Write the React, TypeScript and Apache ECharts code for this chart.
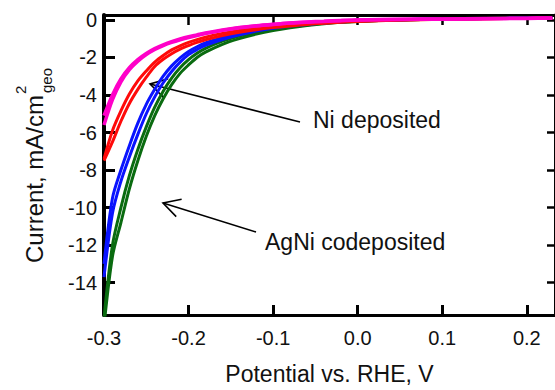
import React, { useEffect, useRef } from "react";
import * as echarts from "echarts";

// Potential grid (V vs. RHE)
const POTENTIAL = [-0.3, -0.29, -0.28, -0.27, -0.26, -0.25, -0.24, -0.23, -0.22, -0.21, -0.2, -0.19, -0.18, -0.16, -0.14, -0.12, -0.1, -0.08, -0.06, -0.04, -0.02, 0, 0.05, 0.1, 0.15, 0.2, 0.23];

// AgNi codeposited (green, two scans)
const GREEN_A = [-16.3, -12.6, -10.8, -9.0, -7.5, -6.2, -5.1, -4.2, -3.45, -2.85, -2.4, -2.0, -1.72, -1.3, -1.0, -0.76, -0.57, -0.42, -0.3, -0.2, -0.13, -0.08, 0, 0.04, 0.07, 0.09, 0.1];
const GREEN_B = [-15.9, -12.0, -10.0, -8.3, -6.9, -5.7, -4.65, -3.8, -3.1, -2.55, -2.12, -1.78, -1.52, -1.13, -0.86, -0.65, -0.5, -0.37, -0.27, -0.18, -0.12, -0.07, 0, 0.04, 0.07, 0.09, 0.1];
// AgNi codeposited (blue, two scans)
const BLUE_A = [-13.7, -10.3, -8.6, -7.3, -6.1, -5.0, -4.1, -3.35, -2.75, -2.25, -1.85, -1.58, -1.36, -1.05, -0.8, -0.6, -0.45, -0.33, -0.24, -0.17, -0.11, -0.06, 0.01, 0.05, 0.07, 0.09, 0.1];
const BLUE_B = [-13.0, -9.5, -8.0, -6.7, -5.5, -4.5, -3.7, -3.0, -2.45, -2.02, -1.68, -1.43, -1.23, -0.95, -0.72, -0.54, -0.4, -0.3, -0.22, -0.15, -0.1, -0.05, 0.01, 0.05, 0.07, 0.09, 0.1];
// Ni deposited (red, two scans)
const RED_A = [-7.5, -6.5, -5.4, -4.45, -3.7, -3.05, -2.48, -2.1, -1.8, -1.56, -1.37, -1.2, -1.06, -0.84, -0.66, -0.52, -0.41, -0.32, -0.24, -0.18, -0.12, -0.08, -0.01, 0.03, 0.06, 0.08, 0.09];
const RED_B = [-7.4, -5.9, -4.85, -3.95, -3.25, -2.72, -2.25, -1.9, -1.6, -1.38, -1.2, -1.05, -0.92, -0.72, -0.56, -0.44, -0.34, -0.26, -0.2, -0.14, -0.1, -0.06, 0, 0.04, 0.06, 0.08, 0.09];
// Ni deposited (magenta, two scans)
const MAGENTA_A = [-5.6, -4.25, -3.3, -2.65, -2.2, -1.85, -1.58, -1.37, -1.2, -1.06, -0.94, -0.83, -0.73, -0.56, -0.42, -0.32, -0.24, -0.17, -0.12, -0.08, -0.04, -0.01, 0.02, 0.04, 0.06, 0.08, 0.09];
const MAGENTA_B = [-5.1, -4.0, -3.15, -2.55, -2.12, -1.79, -1.53, -1.33, -1.16, -1.02, -0.9, -0.8, -0.7, -0.54, -0.41, -0.31, -0.23, -0.16, -0.11, -0.07, -0.03, 0, 0.03, 0.05, 0.07, 0.09, 0.1];

const X_TICKS = [-0.3, -0.2, -0.1, 0, 0.1, 0.2];
const Y_TICKS = [0, -2, -4, -6, -8, -10, -12, -14];

const FONT = "'Liberation Sans', Arial, Helvetica, sans-serif";
const TEXT = "#111";

function arrow(tip: number[], tail: number[], len: number, ang: number) {
  const dx = tail[0] - tip[0];
  const dy = tail[1] - tip[1];
  const base = Math.atan2(dy, dx);
  const w1 = [tip[0] + len * Math.cos(base + ang), tip[1] + len * Math.sin(base + ang)];
  const w2 = [tip[0] + len * Math.cos(base - ang), tip[1] + len * Math.sin(base - ang)];
  const style = { stroke: "#000", lineWidth: 1.6 };
  return [
    { type: "line", shape: { x1: tail[0], y1: tail[1], x2: tip[0], y2: tip[1] }, style },
    { type: "polyline", shape: { points: [w1, tip, w2] }, style: { ...style, fill: null } },
  ];
}

export default function App() {
  const ref = useRef<HTMLDivElement>(null);
  useEffect(() => {
    if (!ref.current) return;
    const chart = echarts.init(ref.current, null, { renderer: "svg" });
    const mk = (arr: number[], color: string, width: number) => ({
      type: "line",
      data: POTENTIAL.map((x, i) => [x, arr[i]]),
      showSymbol: false,
      smooth: 0.3,
      clip: true,
      lineStyle: { color, width },
      xAxisIndex: 0,
      yAxisIndex: 0,
    });
    const xFmt = (v: number) => (Math.abs(v) < 1e-9 ? "0.0" : v.toFixed(1));
    const axisCommon = {
      type: "value",
      splitLine: { show: false },
    };
    chart.setOption({
      animation: false,
      backgroundColor: "#fff",
      grid: { left: 104, top: 15, right: -5, bottom: 69 },
      xAxis: [
        {
          ...axisCommon,
          position: "bottom",
          min: -0.3,
          max: 0.2333,
          axisLine: { onZero: false, lineStyle: { color: "#000", width: 3 } },
          axisTick: { inside: true, length: 10, customValues: X_TICKS, lineStyle: { color: "#000", width: 3 } },
          axisLabel: { customValues: X_TICKS, formatter: xFmt, fontSize: 20, color: TEXT, fontFamily: FONT, margin: 13 },
          name: "Potential vs. RHE, V",
          nameLocation: "middle",
          nameGap: 47,
          nameTextStyle: { fontSize: 23, color: TEXT, fontFamily: FONT },
        },
        {
          ...axisCommon,
          position: "top",
          min: -0.3,
          max: 0.2333,
          axisLine: { onZero: false, lineStyle: { color: "#000", width: 3 } },
          axisTick: { inside: true, length: 10, customValues: X_TICKS, lineStyle: { color: "#000", width: 2.5 } },
          axisLabel: { show: false },
        },
      ],
      yAxis: [
        {
          ...axisCommon,
          position: "left",
          min: -15.72,
          max: 0.26,
          axisLine: { onZero: false, lineStyle: { color: "#000", width: 4 } },
          axisTick: { inside: true, length: 11, customValues: Y_TICKS, lineStyle: { color: "#000", width: 3 } },
          axisLabel: { customValues: Y_TICKS, formatter: (v: number) => String(v), fontSize: 20, color: TEXT, fontFamily: FONT, margin: 7 },
        },
        {
          ...axisCommon,
          position: "right",
          min: -15.72,
          max: 0.26,
          axisLine: { onZero: false, lineStyle: { color: "#000", width: 3 } },
          axisTick: { inside: true, length: 8, customValues: Y_TICKS, lineStyle: { color: "#000", width: 2.5 } },
          axisLabel: { show: false },
        },
      ],
      series: [
        mk(GREEN_A, "#0a6b10", 3),
        mk(GREEN_B, "#0a6b10", 3),
        mk(BLUE_A, "#0a14ff", 3),
        mk(BLUE_B, "#0a14ff", 3),
        mk(RED_A, "#ff0a0a", 3),
        mk(RED_B, "#ff0a0a", 3),
        mk(MAGENTA_A, "#ff00c8", 3.5),
        mk(MAGENTA_B, "#ff00c8", 3.5),
      ],
      graphic: [
        {
          type: "group",
          x: 34,
          y: 263,
          rotation: Math.PI / 2,
          children: [
            { type: "text", x: 0, y: 0, style: { text: "Current, mA/cm", font: `24px ${FONT}`, fill: TEXT, textAlign: "left", textVerticalAlign: "middle" } },
            { type: "text", x: 169, y: -14, style: { text: "2", font: `15px ${FONT}`, fill: TEXT, textAlign: "left", textVerticalAlign: "middle" } },
            { type: "text", x: 170, y: 12, style: { text: "geo", font: `15px ${FONT}`, fill: TEXT, textAlign: "left", textVerticalAlign: "middle" } },
          ],
        },
        ...arrow([150, 84], [300, 122], 19, 0.53),
        ...arrow([163, 203], [256, 232], 19, 0.5),
        { type: "text", x: 313, y: 120, style: { text: "Ni deposited", font: `23px ${FONT}`, fill: TEXT, textAlign: "left", textVerticalAlign: "middle" } },
        { type: "text", x: 265, y: 242, style: { text: "AgNi codeposited", font: `23px ${FONT}`, fill: TEXT, textAlign: "left", textVerticalAlign: "middle" } },
      ],
    });
    return () => chart.dispose();
  }, []);
  return <div ref={ref} style={{ position: "fixed", left: 0, top: 0, width: 555, height: 390 }} />;
}
